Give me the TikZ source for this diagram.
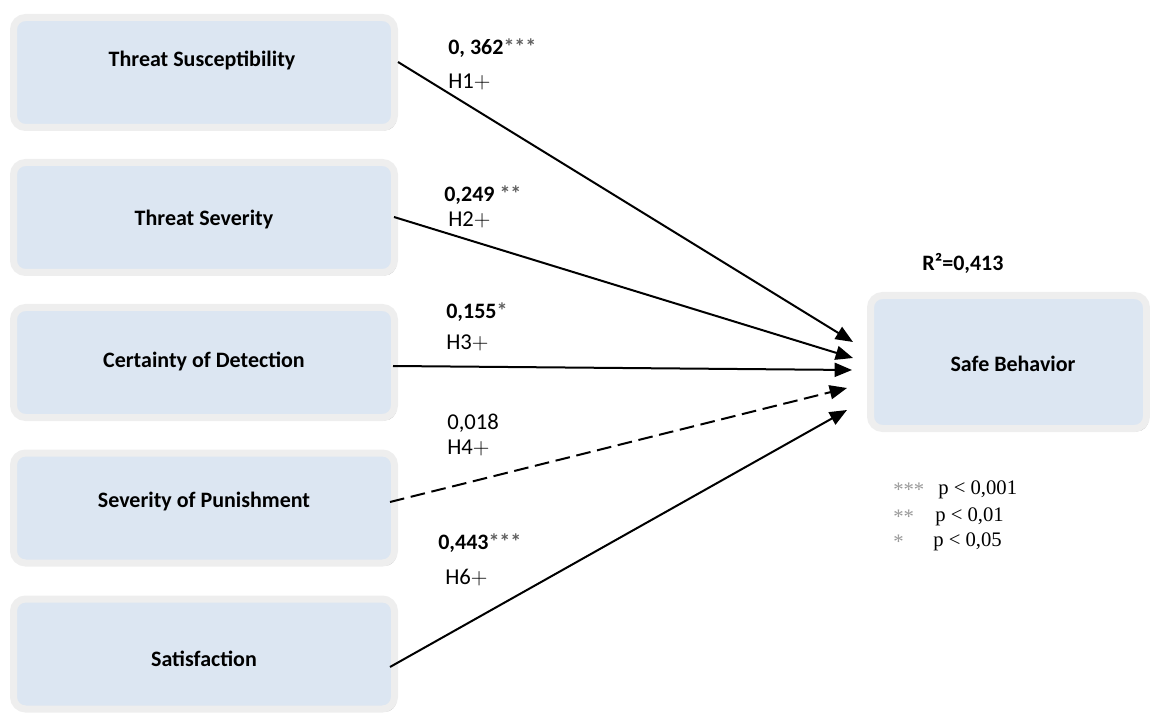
\documentclass[tikz,border=0pt]{standalone}
\usepackage{fontspec}
\setmainfont{Carlito}
\newfontfamily\legendfont{Liberation Serif}
\usetikzlibrary{arrows.meta,shadows}
\definecolor{boxfill}{HTML}{DCE6F2}
\definecolor{boxrim}{HTML}{EEEEEE}
\definecolor{astgray}{HTML}{606060}
\definecolor{leggray}{HTML}{9A9A9A}
\tikzset{
  box/.style={draw=boxrim, line width=5.25pt, fill=boxfill, rounded corners=9pt,
    drop shadow={shadow xshift=1.6pt, shadow yshift=-2.2pt, fill=black!28, opacity=1},
    minimum width=285.75pt, minimum height=82.5pt, inner sep=0pt},
  boxtext/.style={font=\fontsize{16.5}{19}\selectfont\bfseries, inner sep=0pt},
  coef/.style={font=\fontsize{16.5}{19}\selectfont\bfseries, anchor=west, inner sep=0pt},
  hyp/.style={font=\fontsize{17}{19}\selectfont, anchor=west, inner sep=0pt},
  linkarrow/.style={line width=1.5pt, -{Triangle[length=13pt,width=10.5pt]}},
  legtext/.style={font=\fontsize{15.5}{18}\selectfont\legendfont, anchor=west, inner sep=0pt}
}
\newcommand{\astg}[1]{\textcolor{astgray}{#1}}
\newcommand{\hplus}{$+$}
\begin{document}
\begin{tikzpicture}[x=0.75pt,y=-0.75pt]
\useasboundingbox (0,0) rectangle (1150,720);
% boxes
\node[box] (b1) at (204,72.5) {};
\node[box] (b2) at (204,217.5) {};
\node[box] (b3) at (204,362.5) {};
\node[box] (b4) at (204,508) {};
\node[box] (b5) at (204,654) {};
\node[box, minimum width=207pt, minimum height=99.75pt] (sb) at (1008.5,362) {};
\node[boxtext] (l1) at (202,60) {Threat Susceptibility};
\node[boxtext] (l2) at (204,220) {Threat Severity};
\node[boxtext] (l3) at (204,361) {Certainty of Detection};
\node[boxtext] (l4) at (204,502) {Severity of Punishment};
\node[boxtext] (l5) at (204,659) {Satisfaction};
\node[boxtext] (lsb) at (1013,364) {Safe Behavior};
% connector ends
\coordinate (s1) at (398,62);
\coordinate (s2) at (394,217);
\coordinate (s3) at (393,366);
\coordinate (s4) at (390,502);
\coordinate (s5) at (390,667);
\coordinate (e1) at (853,342);
\coordinate (e2) at (853,358);
\coordinate (e3) at (852,370);
\coordinate (e4) at (847,388);
\coordinate (e5) at (847,410);
\draw[linkarrow] (s1) -- (e1);
\draw[linkarrow] (s2) -- (e2);
\draw[linkarrow] (s3) -- (e3);
\draw[linkarrow, dash pattern=on 11pt off 5pt] (s4) -- (e4);
\draw[linkarrow] (s5) -- (e5);
% labels
\node[coef] (c1) at (448,48) {0, 362\astg{***}};
\node[hyp] (h1) at (448,82) {H1\hplus};
\node[coef] (c2) at (444,195) {0,249 \astg{**}};
\node[hyp] (h2) at (448,220) {H2\hplus};
\node[coef] (c3) at (446,312) {0,155\astg{*}};
\node[hyp] (h3) at (446,343) {H3\hplus};
\node[hyp] (c4) at (447,423) {0,018};
\node[hyp] (h4) at (447,448) {H4\hplus};
\node[coef] (c5) at (438,543) {0,443\astg{***}};
\node[hyp] (h5) at (445,578) {H6\hplus};
\node[coef, anchor=center] (r2) at (963,263) {R²=0,413};
% legend
\node[legtext, text=leggray] (a1) at (893,490) {***};
\node[legtext] (p1) at (938,490) {p < 0,001};
\node[legtext, text=leggray] (a2) at (893,517) {**};
\node[legtext] (p2) at (935,517) {p < 0,01};
\node[legtext, text=leggray] (a3) at (893,542) {*};
\node[legtext] (p3) at (933,542) {p < 0,05};
\end{tikzpicture}
\end{document}
